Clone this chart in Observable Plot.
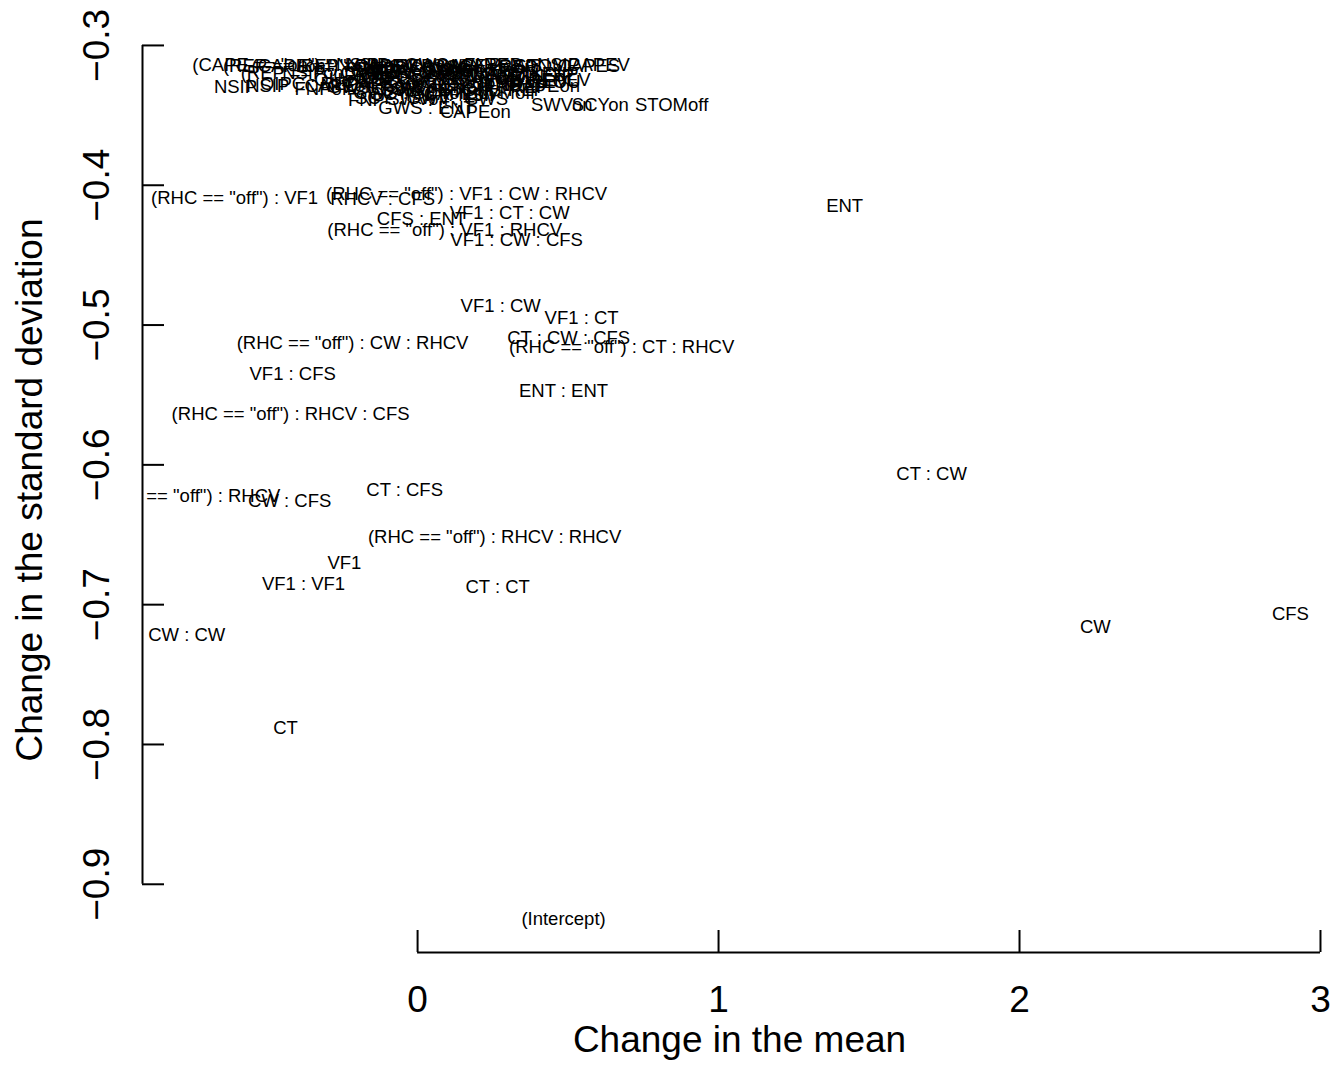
<!DOCTYPE html>
<html><head><meta charset="utf-8">
<script src="https://cdn.jsdelivr.net/npm/d3@7"></script>
<script src="https://cdn.jsdelivr.net/npm/@observablehq/plot@0.6"></script>
<style>body{margin:0;background:#fff} svg{display:block}</style>
</head><body><div id="chart"></div>
<script>
const termLabels = [
  '(CAPE == "on") : NSIP', '(REP == "on") : CAPEV', '(CAPE == "on") : REP', 'REP : CAPEV : SWV', 'NSIP : GWS : FNP',
  'SWV : SCY : REP', 'CAPEV : STOM', 'REP : NSIP', 'GWS : CAPES', 'CAPEV',
  '(REP == "on") : SWV', 'NSIP : CAPEV : GWS', 'FNP : SCY : SWV', 'REP : STOM : GWS', 'SCY : CAPE : NSIP',
  'STOM : FNP', 'REPEV', 'SWV : OU',
  'NSIP', 'NSIP : CAPEon', 'OIPC : REP', 'GWS : SWVon', 'CAPEon : SCY : FNP', 'SWV : NSIP : REP', 'SLVMoff',
  'FNPoff : STOM', 'OU : CAPEon', 'GWS : SCYon',
  'FNP', 'SCY : SWV', 'GWS : ENT', 'CAPEon', 'SWVon', 'SCYon', 'STOMoff', 'SWVoff : GWS',
  'REP : SCY', 'CAPE : FNP : GWS', 'NSIP : STOM', 'SWV : CAPEV', 'OU : REP : SCY', 'FNP : NSIP',
  'CAPEV : GWS', 'STOM : SCY : OU', 'REP : FNP', 'NSIP : SWVon', 'CAPE : SCY', 'GWS : STOM : REP', 'FNP : OU', 'SCY : CAPEon',
  '(RHC == "off") : VF1', '(RHC == "off") : VF1 : CW : RHCV', 'RHCV : CFS', 'CFS : ENT', '(RHC == "off") : VF1 : RHCV',
  'VF1 : CT : CW', 'VF1 : CW : CFS', 'ENT',
  'VF1 : CW', 'VF1 : CT', 'CT : CW : CFS', '(RHC == "off") : CT : RHCV', 'ENT : ENT',
  '(RHC == "off") : CW : RHCV', 'VF1 : CFS', '(RHC == "off") : RHCV : CFS',
  'CT : CW', 'CT : CFS', 'CW : CFS', '(RHC == "off") : RHCV', '(RHC == "off") : RHCV : RHCV',
  'VF1', 'VF1 : VF1', 'CT : CT', 'CW : CW', 'CW', 'CFS', 'CT', '(Intercept)'
];
const meanChange = [
  -0.438, -0.325, -0.25, -0.10, 0.02,
  0.15, 0.28, 0.38, 0.47, 0.601,
  -0.30, -0.15, 0.00, 0.12, 0.25,
  0.36, 0.471, 0.40,
  -0.605, -0.355, -0.36, -0.10, 0.05, 0.18, 0.276,
  -0.20, 0.35, -0.02,
  -0.170, -0.05, 0.030, 0.192, 0.479, 0.607, 0.844, 0.10,
  -0.05, 0.08, 0.22, 0.30, -0.12, 0.12,
  -0.02, 0.10, 0.20, 0.02, -0.08, 0.15, 0.27, 0.05,
  -0.608, 0.163, -0.116, 0.013, 0.090,
  0.306, 0.329, 1.419,
  0.276, 0.545, 0.502, 0.678, 0.485,
  -0.216, -0.415, -0.422,
  1.708, -0.043, -0.425, -0.764, 0.256,
  -0.243, -0.379, 0.266, -0.767, 2.252, 2.900, -0.439, 0.485
];
const sdChange = [
  -0.3143, -0.3150, -0.3145, -0.3150, -0.3140,
  -0.3155, -0.3148, -0.3142, -0.3150, -0.3143,
  -0.3195, -0.3200, -0.3210, -0.3190, -0.3220,
  -0.3205, -0.3250, -0.3260,
  -0.3300, -0.3293, -0.3275, -0.3300, -0.3285, -0.3300, -0.3340,
  -0.3310, -0.3290, -0.3340,
  -0.3390, -0.3380, -0.3450, -0.3480, -0.3430, -0.3430, -0.3430, -0.3385,
  -0.3170, -0.3230, -0.3175, -0.3265, -0.3245, -0.3355,
  -0.3185, -0.3240, -0.3280, -0.3160, -0.3260, -0.3320, -0.3215, -0.3350,
  -0.4090, -0.4066, -0.4100, -0.4245, -0.4323,
  -0.4200, -0.4395, -0.4152,
  -0.4867, -0.4953, -0.5096, -0.5160, -0.5475,
  -0.5130, -0.5353, -0.5640,
  -0.6069, -0.6180, -0.6260, -0.6220, -0.6520,
  -0.6705, -0.6856, -0.6877, -0.7220, -0.7163, -0.7070, -0.7886, -0.9250
];
const xTicks = [0, 1, 2, 3];
const yTicks = [-0.9, -0.8, -0.7, -0.6, -0.5, -0.4, -0.3];
const xTitle = "Change in the mean";
const yTitle = "Change in the standard deviation";

const data = termLabels.map((t, i) => ({term: t, mean: meanChange[i], sd: sdChange[i]}));
const W = 1335, H = 1090, mL = 142, mR = 9, mT = 3, mB = 138;
const xDomain = [-0.914, 3.02];
const yDomain = [-0.9488, -0.27];
const fmt = d => String(d).replace("-", "\u2212");
const axisText = {fontSize: 37, fill: "#000", textAnchor: "middle", lineAnchor: "middle"};

const chart = Plot.plot({
  width: W, height: H,
  marginLeft: mL, marginRight: mR, marginTop: mT, marginBottom: mB,
  style: {fontFamily: "'Liberation Sans', Arial, Helvetica, sans-serif", background: "#fff", color: "#000"},
  x: {domain: xDomain, axis: null},
  y: {domain: yDomain, axis: null},
  marks: [
    Plot.text(data, {x: "mean", y: "sd", text: "term", fontSize: 18.5, fill: "#000", clip: true}),
    Plot.ruleX([xDomain[0]], {y1: d3.min(yTicks), y2: d3.max(yTicks), strokeWidth: 2, stroke: "#000"}),
    Plot.tickY(yTicks, {y: d => d, insetRight: W - mL - mR - 22, strokeWidth: 2, stroke: "#000"}),
    Plot.text(yTicks, {y: d => d, text: fmt, frameAnchor: "left", dx: -45, rotate: -90, ...axisText}),
    Plot.ruleY([yDomain[0]], {x1: d3.min(xTicks), x2: d3.max(xTicks), strokeWidth: 2, stroke: "#000"}),
    Plot.tickX(xTicks, {x: d => d, insetTop: H - mT - mB - 22, strokeWidth: 2, stroke: "#000"}),
    Plot.text(xTicks, {x: d => d, text: d => String(d), frameAnchor: "bottom", dy: 48, ...axisText}),
    Plot.text([xTitle], {text: d => d, frameAnchor: "bottom", dy: 88, dx: 5, ...axisText}),
    Plot.text([yTitle], {text: d => d, frameAnchor: "left", dx: -112, dy: 12, rotate: -90, ...axisText})
  ]
});
document.getElementById("chart").appendChild(chart);
</script>
</body></html>
